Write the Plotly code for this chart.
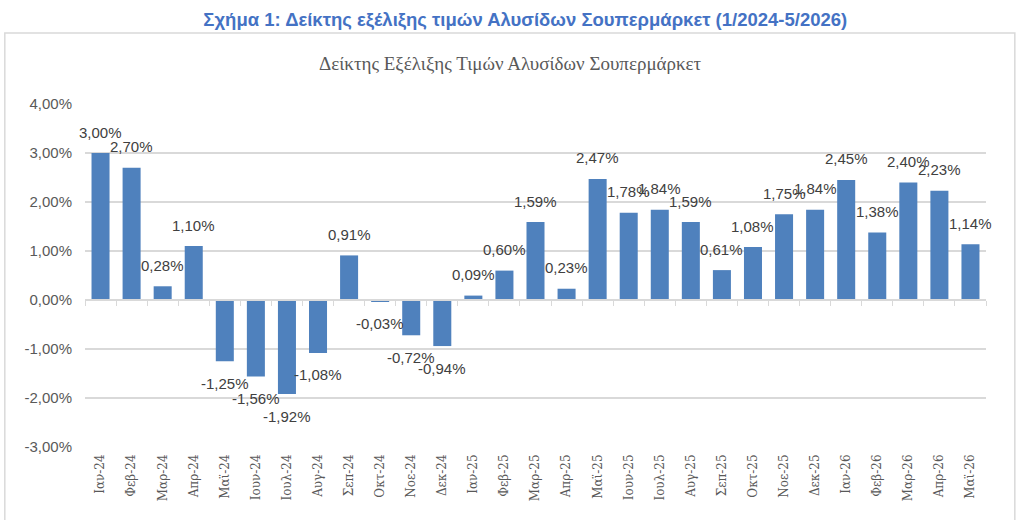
import plotly.graph_objects as go

months = ["Ιαν-24", "Φεβ-24", "Μαρ-24", "Απρ-24", "Μαϊ-24", "Ιουν-24", "Ιουλ-24", "Αυγ-24",
          "Σεπ-24", "Οκτ-24", "Νοε-24", "Δεκ-24", "Ιαν-25", "Φεβ-25", "Μαρ-25", "Απρ-25",
          "Μαϊ-25", "Ιουν-25", "Ιουλ-25", "Αυγ-25", "Σεπ-25", "Οκτ-25", "Νοε-25", "Δεκ-25",
          "Ιαν-26", "Φεβ-26", "Μαρ-26", "Απρ-26", "Μαϊ-26"]
values = [3.00, 2.70, 0.28, 1.10, -1.25, -1.56, -1.92, -1.08, 0.91, -0.03, -0.72, -0.94,
          0.09, 0.60, 1.59, 0.23, 2.47, 1.78, 1.84, 1.59, 0.61, 1.08, 1.75, 1.84,
          2.45, 1.38, 2.40, 2.23, 1.14]
y_ticks = [-3, -2, -1, 0, 1, 2, 3, 4]
y_tick_text = ["-3,00%", "-2,00%", "-1,00%", "0,00%", "1,00%", "2,00%", "3,00%", "4,00%"]

main_title = "Σχήμα 1: Δείκτης εξέλιξης τιμών Αλυσίδων Σουπερμάρκετ (1/2024-5/2026)"
inner_title = "Δείκτης Εξέλιξης Τιμών Αλυσίδων Σουπερμάρκετ"

BAR = "#4F81BD"
GRID = "#D9D9D9"
TXT = "#404040"
AX = "#595959"

n = len(months)

fig = go.Figure()
fig.add_trace(go.Bar(x=months, y=values, marker=dict(color=BAR, line=dict(width=0)),
                     hoverinfo="x+y"))
# helper trace for the zero-positioned axis with category ticks
fig.add_trace(go.Scatter(x=months, y=values, mode="markers", marker=dict(opacity=0),
                         xaxis="x2", hoverinfo="skip", showlegend=False))

for m, v in zip(months, values):
    fig.add_annotation(x=m, y=v, text=f"{v:.2f}%".replace(".", ","), showarrow=False,
                       yanchor="middle", yshift=21 if v >= 0 else -22,
                       font=dict(family="Liberation Sans, Arial", size=15, color=TXT))

# outer frame
fig.add_shape(type="rect", xref="paper", yref="paper", x0=-0.089, x1=1.032, y0=-0.3, y1=1.207,
              line=dict(color="#D9D9D9", width=1.5), layer="below")

fig.add_annotation(xref="paper", yref="paper", x=0.4717, y=1.117, yanchor="middle",
                   text=inner_title, showarrow=False,
                   font=dict(family="Liberation Serif", size=19, color=AX))

fig.update_layout(
    width=1020, height=520,
    margin=dict(l=85, r=34, t=104, b=73),
    paper_bgcolor="white", plot_bgcolor="white",
    showlegend=False,
    bargap=0.42,
    title=dict(text=main_title, x=0.515, xanchor="center", y=0.962, yanchor="middle",
               font=dict(family="Liberation Sans, Arial", size=18.5, color="#4472C4", weight="bold")),
    xaxis=dict(type="category", categoryorder="array", categoryarray=months,
               range=[-0.5, n - 0.5], autorange=False,
               tickangle=-90, showgrid=False, showline=False, ticks="",
               tickfont=dict(family="DejaVu Serif", size=12, color=AX), ticklabelstandoff=4),
    xaxis2=dict(type="category", categoryorder="array", categoryarray=months, overlaying="x",
                range=[-0.5, n - 0.5], autorange=False,
                anchor="free", position=3 / 7, side="bottom",
                showline=True, linecolor=GRID, linewidth=1.5, ticks="outside", ticklen=5,
                tickcolor=GRID, tickson="boundaries", showticklabels=False, showgrid=False),
    yaxis=dict(range=[-3, 4], tickvals=y_ticks, ticktext=y_tick_text,
               showgrid=True, gridcolor=GRID, gridwidth=1.5, zeroline=False, showline=False,
               tickfont=dict(family="Liberation Sans, Arial", size=15, color=AX),
               ticklabelstandoff=12),
)

fig.write_html("out.html")
